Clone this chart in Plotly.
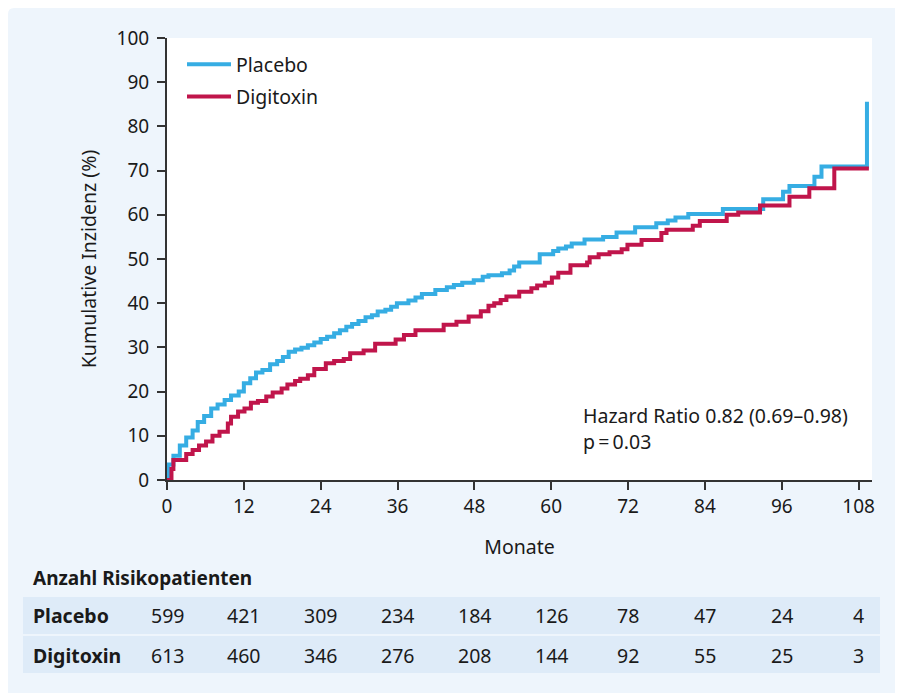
import plotly.graph_objects as go

# ---- data ----
placebo_t = [0, 0.2, 1.0, 2.0, 3.0, 4.0, 4.8, 5.8, 6.9, 7.9, 9.0, 10.0, 11.2, 12.0, 13.0, 13.9,
             14.9, 16.1, 17.2, 18.1, 19.0, 20.0, 21.0, 22.0, 23.0, 24.0, 25.0, 26.1, 27.0, 28.0,
             28.9, 29.9, 31.0, 32.0, 32.9, 34.1, 35.0, 35.9, 37.7, 38.8, 39.8, 41.9, 43.7, 44.8,
             46.1, 47.9, 49.3, 50.2, 52.3, 53.5, 54.2, 55.0, 58.2, 60.3, 61.1, 62.3, 63.2, 65.2,
             68.1, 70.2, 73.1, 76.4, 78.2, 79.4, 81.4, 86.8, 93.1, 96.2, 97.2, 101.1, 102.2,
             109.3, 109.3]
placebo_v = [0, 3.5, 5.5, 7.8, 9.6, 11.2, 13.1, 14.5, 16.2, 17.1, 18.1, 19.1, 20.0, 21.9, 23.0, 24.3,
             24.9, 26.2, 26.9, 27.8, 29.0, 29.5, 29.9, 30.5, 31.1, 31.9, 32.4, 33.2, 33.9, 34.7,
             35.3, 36.0, 36.8, 37.3, 38.1, 38.5, 39.2, 40.0, 40.6, 41.3, 42.1, 43.0, 43.6, 44.1,
             44.6, 45.2, 46.0, 46.3, 46.8, 47.4, 48.3, 49.2, 51.1, 51.8, 52.4, 52.8, 53.5, 54.4,
             55.0, 56.0, 57.2, 58.1, 58.7, 59.4, 60.2, 61.3, 63.5, 65.2, 66.5, 68.6, 70.9,
             70.9, 85.6]

digitoxin_t = [0, 0.7, 1.0, 3.0, 4.0, 5.0, 6.1, 7.1, 8.2, 9.5, 10.0, 11.1, 12.1, 13.1, 14.2, 15.5,
               16.5, 17.9, 18.8, 20.0, 20.8, 22.0, 23.0, 24.8, 26.1, 27.6, 28.6, 30.7, 32.5, 35.7,
               37.0, 38.8, 43.2, 45.2, 47.1, 49.0, 50.2, 51.1, 52.1, 53.0, 55.0, 56.9, 57.8, 59.0,
               60.1, 61.1, 63.0, 65.6, 66.0, 67.4, 69.1, 71.0, 71.9, 74.1, 77.2, 78.0, 82.1, 83.2,
               87.4, 89.2, 92.6, 97.2, 100.3, 104.2, 109.6]
digitoxin_v = [0, 2.5, 4.5, 5.9, 6.8, 7.8, 8.7, 10.0, 10.9, 12.8, 14.3, 15.5, 16.2, 17.5, 17.9, 18.9,
               19.8, 20.7, 21.6, 22.4, 22.9, 23.7, 25.1, 26.4, 26.9, 27.4, 28.7, 29.3, 30.8, 31.8,
               32.8, 33.9, 35.1, 35.8, 37.0, 38.2, 39.4, 40.0, 40.7, 41.5, 42.6, 43.4, 44.0, 44.6,
               45.8, 46.9, 48.6, 49.2, 50.4, 51.1, 51.5, 52.2, 53.2, 54.3, 55.9, 56.6, 57.5, 58.6,
               60.0, 60.5, 62.1, 64.1, 66.0, 70.5, 70.5]

risk_months = [0, 12, 24, 36, 48, 60, 72, 84, 96, 108]
risk_placebo = [599, 421, 309, 234, 184, 126, 78, 47, 24, 4]
risk_digitoxin = [613, 460, 346, 276, 208, 144, 92, 55, 25, 3]

x_ticks = [0, 12, 24, 36, 48, 60, 72, 84, 96, 108]
y_ticks = [0, 10, 20, 30, 40, 50, 60, 70, 80, 90, 100]

# ---- style ----
W, H = 903, 693
OFF = 8  # page body margin
ML, MT = 159, 30
PW, PH = 705, 442
MR, MB = W - ML - PW, H - MT - PH
FONT = "Noto Sans"
TXT = "#1a1a1a"
BLUE = "#36ade3"
RED = "#c0154b"
PANEL = "#eef5fc"
BAND = "#deebf8"
FS = 19.5


def px(X):  # screen pixel -> paper x
    return (X - OFF - ML) / PW


def py(Y):  # screen pixel -> paper y
    return (OFF + MT + PH - Y) / PH


fig = go.Figure()
fig.add_trace(go.Scatter(x=placebo_t, y=placebo_v, mode="lines", name="Placebo",
                         line=dict(color=BLUE, width=4, shape="hv"), legendgroup="a"))
fig.add_trace(go.Scatter(x=digitoxin_t, y=digitoxin_v, mode="lines", name="Digitoxin",
                         line=dict(color=RED, width=4, shape="hv"), legendgroup="b"))

shapes = []
r = 6
c0 = OFF
corner = (f"M {px(c0)},{py(c0 + r)} L {px(c0)},{py(c0)} L {px(c0 + r)},{py(c0)} "
          f"Q {px(c0)},{py(c0)} {px(c0)},{py(c0 + r)} Z")
shapes.append(dict(type="path", xref="paper", yref="paper", path=corner,
                   fillcolor="white", line=dict(width=0), layer="below"))
# risk table bands
shapes.append(dict(type="rect", xref="paper", yref="paper", x0=px(23), x1=px(880), y0=py(634), y1=py(597),
                   fillcolor=BAND, line=dict(width=0), layer="below"))
shapes.append(dict(type="rect", xref="paper", yref="paper", x0=px(23), x1=px(880), y0=py(673), y1=py(636),
                   fillcolor=BAND, line=dict(width=0), layer="below"))

ann = []
ann.append(dict(text="Hazard Ratio 0.82 (0.69\u20130.98)", xref="paper", yref="paper",
                x=px(581), y=py(415), xanchor="left", yanchor="middle", showarrow=False,
                font=dict(size=FS, color=TXT, family=FONT)))
ann.append(dict(text="p\u2009=\u20090.03", xref="paper", yref="paper",
                x=px(581), y=py(441), xanchor="left", yanchor="middle", showarrow=False,
                font=dict(size=FS, color=TXT, family=FONT)))
ann.append(dict(text="<b>Anzahl Risikopatienten</b>", xref="paper", yref="paper",
                x=px(31), y=py(578), xanchor="left", yanchor="middle", showarrow=False,
                font=dict(size=19, color=TXT, family=FONT)))
for label, vals, yc in [("Placebo", risk_placebo, 615), ("Digitoxin", risk_digitoxin, 655)]:
    ann.append(dict(text=f"<b>{label}</b>", xref="paper", yref="paper",
                    x=px(31), y=py(yc), xanchor="left", yanchor="middle", showarrow=False,
                    font=dict(size=FS, color=TXT, family=FONT)))
    for m, v in zip(risk_months, vals):
        ann.append(dict(text=str(v), xref="x", yref="paper", x=m, y=py(yc),
                        xanchor="center", yanchor="middle", showarrow=False,
                        font=dict(size=FS, color=TXT, family=FONT)))

fig.update_layout(
    width=W, height=H,
    margin=dict(l=ML, r=MR, t=MT, b=MB, pad=0),
    paper_bgcolor=PANEL, plot_bgcolor="white",
    font=dict(family=FONT, size=FS, color=TXT),
    showlegend=True,
    legend=dict(x=px(182), y=py(45), xanchor="left", yanchor="top",
                bgcolor="rgba(0,0,0,0)", font=dict(size=FS, family=FONT, color=TXT),
                tracegroupgap=4, itemwidth=44),
    xaxis=dict(range=[0, PW / 6.404], tickvals=x_ticks, ticks="outside", ticklen=8, tickwidth=1.5,
               tickcolor="#333", showline=True, linecolor="#333", linewidth=2, showgrid=False,
               zeroline=False, tickfont=dict(size=19), ticklabelstandoff=0,
               title=dict(text="Monate", standoff=23, font=dict(size=FS))),
    yaxis=dict(range=[0, 100], tickvals=y_ticks, ticks="outside", ticklen=8, tickwidth=1.5,
               tickcolor="#333", showline=True, linecolor="#333", linewidth=2, showgrid=False,
               zeroline=False, tickfont=dict(size=19), ticklabelstandoff=4,
               title=dict(text="Kumulative Inzidenz (%)", standoff=15, font=dict(size=FS))),
    shapes=shapes, annotations=ann,
)

fig.write_html("out.html")
